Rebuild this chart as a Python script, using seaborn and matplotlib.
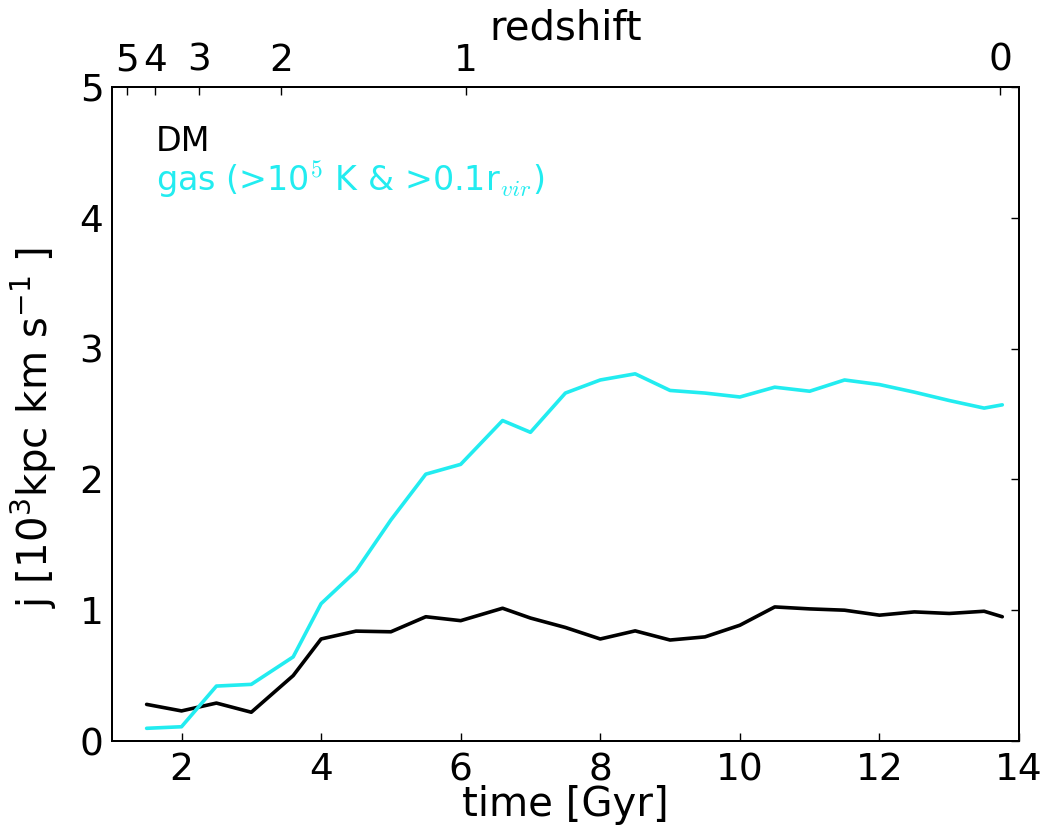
import matplotlib
matplotlib.use("Agg")
import matplotlib.pyplot as plt
import seaborn as sns
import pandas as pd
import numpy as np

# ---- data ----
time_gyr = [1.5, 2.0, 2.5, 3.0, 3.6, 4.0, 4.5, 5.0, 5.5, 6.0, 6.6, 7.0, 7.5,
            8.0, 8.5, 9.0, 9.5, 10.0, 10.5, 11.0, 11.5, 12.0, 12.5, 13.0, 13.5, 13.76]
j_dm = [0.28, 0.23, 0.29, 0.22, 0.50, 0.78, 0.84, 0.835, 0.95, 0.92, 1.015, 0.94, 0.868,
        0.78, 0.842, 0.772, 0.796, 0.885, 1.025, 1.01, 1.0, 0.962, 0.987, 0.975, 0.992, 0.95]
j_gas = [0.097, 0.109, 0.42, 0.433, 0.643, 1.05, 1.30, 1.69, 2.04, 2.115, 2.45, 2.36, 2.66,
         2.76, 2.807, 2.68, 2.66, 2.63, 2.705, 2.674, 2.76, 2.725, 2.667, 2.603, 2.545, 2.57]

redshift_labels = ["5", "4", "3", "2", "1", "0"]
redshift_times = [1.224, 1.625, 2.251, 3.43, 6.07, 13.73]

x_ticks = [2, 4, 6, 8, 10, 12, 14]
y_ticks = [0, 1, 2, 3, 4, 5]

gas_color = "#22ecf0"

sns.set_style("white")
plt.rcParams["font.family"] = ["DejaVu Sans"]
plt.rcParams["mathtext.fontset"] = "dejavusans"
plt.rcParams["text.color"] = "black"
plt.rcParams["axes.labelcolor"] = "black"
plt.rcParams["xtick.color"] = "black"
plt.rcParams["ytick.color"] = "black"

fig = plt.figure(figsize=(10.5, 8.26), dpi=100)
ax = fig.add_axes([0.1064, 0.1029, 0.9705 - 0.1064, 0.8947 - 0.1029])

df = pd.DataFrame({"time": time_gyr * 2,
                   "j": j_dm + j_gas,
                   "comp": ["DM"] * len(time_gyr) + ["gas"] * len(time_gyr)})
sns.lineplot(data=df, x="time", y="j", hue="comp",
             palette={"DM": "black", "gas": gas_color},
             linewidth=2.6, legend=False, ax=ax, sort=False)

ax.set_xlim(1, 14)
ax.set_ylim(0, 5)
ax.set_xticks(x_ticks)
ax.set_yticks(y_ticks)
fs = 27
lfs = 29
ax.tick_params(axis="both", direction="in", length=6, width=1, labelsize=fs,
               right=True, colors="black", labelcolor="black", pad=6)
ax.tick_params(axis="x", pad=8)
ax.set_xlabel("time [Gyr]", fontsize=lfs, labelpad=-2, color="black")
ax.set_ylabel(r"j [10$^3$kpc km s$^{-1}$ ]", fontsize=lfs, labelpad=10, color="black")
ax.yaxis.set_label_coords(-0.058, 0.48)
for s in ax.spines.values():
    s.set_visible(True)
    s.set_color("black")
    s.set_linewidth(1.4)

ax2 = ax.twiny()
ax2.set_xlim(ax.get_xlim())
ax2.set_xticks(redshift_times)
ax2.set_xticklabels(redshift_labels)
ax2.tick_params(axis="x", direction="in", length=6, width=1, labelsize=fs, pad=6,
                colors="black", labelcolor="black")
ax2.set_xlabel("redshift", fontsize=lfs, labelpad=2, color="black")
for s in ax2.spines.values():
    s.set_linewidth(1.4)
    s.set_color("black")

ax.text(0.0487, 0.902, "DM", transform=ax.transAxes, fontsize=24, color="black",
        ha="left", va="baseline")
ax.text(0.0487, 0.840, r"gas (>10$^5$ K & >0.1r$_{vir}$)", transform=ax.transAxes,
        fontsize=24, color=gas_color, ha="left", va="baseline", math_fontfamily="cm")

fig.savefig("out.png", dpi=100)
